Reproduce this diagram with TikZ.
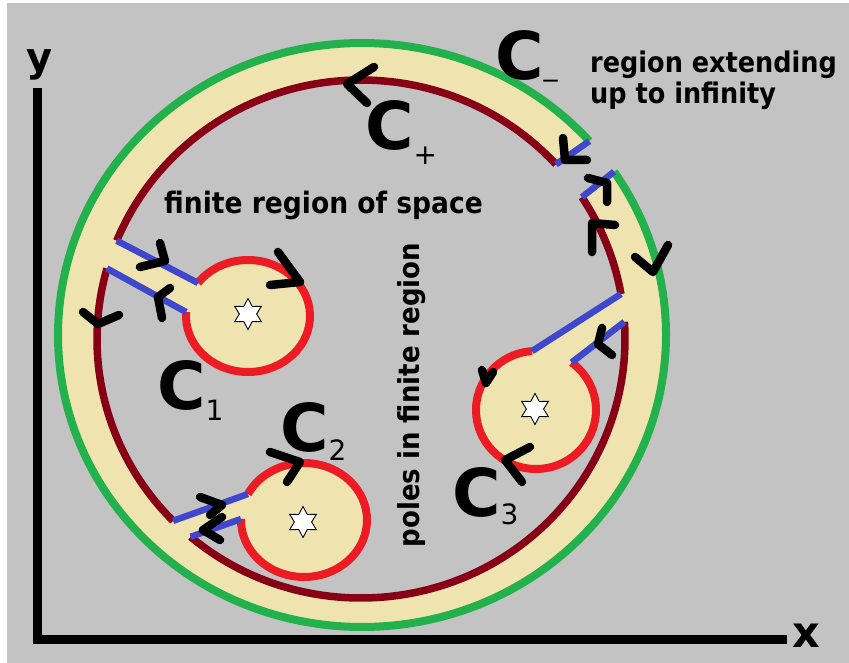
\documentclass[tikz,border=0pt]{standalone}
\usepackage{fontspec}
\setmainfont{DejaVu Sans}
\newfontfamily\narrowsans{DejaVu Sans}[FakeStretch=0.9]
\usetikzlibrary{calc,shapes.geometric}
\definecolor{bgg}{RGB}{195,195,195}
\definecolor{ringfill}{RGB}{239,228,176}
\definecolor{cgreen}{RGB}{34,177,76}
\definecolor{cmaroon}{RGB}{136,0,21}
\definecolor{cred}{RGB}{237,28,36}
\definecolor{cblue}{RGB}{63,72,204}
\newcommand{\labCfont}{\fontsize{66}{66}\selectfont\bfseries}
\newcommand{\labSubfont}{\fontsize{28}{28}\selectfont\mdseries}
\newcommand{\txtfont}{\narrowsans\fontsize{29.5}{30}\selectfont\bfseries}
\begin{document}
\begin{tikzpicture}[x=1pt,y=1pt,
  greenline/.style={draw=cgreen,line width=8pt},
  maroonline/.style={draw=cmaroon,line width=7.5pt},
  redline/.style={draw=cred,line width=8pt},
  blueline/.style={draw=cblue,line width=6.5pt},
  chev/.style={draw=black,line width=8.5pt,line cap=round,line join=round},
  polestar/.style={star,star points=6,star point ratio=1.8,draw=black,line width=0.9pt,fill=white,minimum size=31pt,inner sep=0pt},
  axisline/.style={draw=black,line width=9pt,line join=miter},
  clabel/.style={anchor=base west,inner sep=0pt,text=black},
  plaintext/.style={inner sep=0pt,text=black,font=\txtfont}]
\useasboundingbox (0,0) rectangle (849,-663);
\fill[white] (0,0) rectangle (849,-663);
\fill[bgg] (7,-3) rectangle (849,-663);

% centres
\coordinate (GC) at (362,-335);
\coordinate (MC) at (361,-339);
\coordinate (O1) at (248,-316);
\coordinate (O2) at (304,-520);
\coordinate (O3) at (536,-410);

% cut points
\coordinate (gA) at ($(GC)+(41.6:304pt and 292pt)$);
\coordinate (gB) at ($(GC)+(34:304pt and 292pt)$);
\coordinate (mA) at ($(MC)+(42.4:264pt and 259pt)$);
\coordinate (mB) at ($(MC)+(33.2:264pt and 259pt)$);
\coordinate (m1a) at ($(MC)+(157.7:264pt and 259pt)$);
\coordinate (m1b) at ($(MC)+(164.2:264pt and 259pt)$);
\coordinate (m2a) at ($(MC)+(224.6:264pt and 259pt)$);
\coordinate (m2b) at ($(MC)+(229.8:264pt and 259pt)$);
\coordinate (m3a) at ($(MC)+(10:264pt and 259pt)$);
\coordinate (m3b) at ($(MC)+(3.8:264pt and 259pt)$);
\coordinate (c1a) at ($(O1)+(143.8:62pt and 56pt)$);
\coordinate (c1b) at ($(O1)+(176:62pt and 56pt)$);
\coordinate (c2a) at ($(O2)+(152.9:63pt and 57pt)$);
\coordinate (c2b) at ($(O2)+(179:63pt and 57pt)$);
\coordinate (c3a) at ($(O3)+(93.8:60pt and 59pt)$);
\coordinate (c3b) at ($(O3)+(53.6:60pt and 59pt)$);

% fills
\fill[ringfill] (GC) ellipse [x radius=304pt, y radius=292pt];
\fill[bgg] (MC) ellipse [x radius=264pt, y radius=259pt];
\fill[bgg] ($(gA)!-14pt!(mA)$) -- ($(mA)!-14pt!(gA)$) -- ($(mB)!-14pt!(gB)$) -- ($(gB)!-14pt!(mB)$) -- cycle;
\fill[ringfill] ($(m1a)!-12pt!(c1a)$) -- (c1a) -- (O1) -- (c1b) -- ($(m1b)!-12pt!(c1b)$) -- cycle;
\fill[ringfill] ($(m2a)!-12pt!(c2a)$) -- (c2a) -- (O2) -- (c2b) -- ($(m2b)!-12pt!(c2b)$) -- cycle;
\fill[ringfill] ($(m3a)!-12pt!(c3a)$) -- (c3a) -- (O3) -- (c3b) -- ($(m3b)!-12pt!(c3b)$) -- cycle;
\fill[ringfill] (O1) ellipse [x radius=62pt, y radius=56pt];
\fill[ringfill] (O2) ellipse [x radius=63pt, y radius=57pt];
\fill[ringfill] (O3) ellipse [x radius=60pt, y radius=59pt];

% contours
\draw[greenline] (gA) arc[start angle=41.6, end angle=394, x radius=304pt, y radius=292pt];
\draw[maroonline] (m3a) arc[start angle=10, end angle=33.2, x radius=264pt, y radius=259pt];
\draw[maroonline] (mA) arc[start angle=42.4, end angle=157.7, x radius=264pt, y radius=259pt];
\draw[maroonline] (m1b) arc[start angle=164.2, end angle=224.6, x radius=264pt, y radius=259pt];
\draw[maroonline] (m2b) arc[start angle=229.8, end angle=363.8, x radius=264pt, y radius=259pt];
\draw[redline] (c1b) arc[start angle=176, end angle=503.8, x radius=62pt, y radius=56pt];
\draw[redline] (c2b) arc[start angle=179, end angle=512.9, x radius=63pt, y radius=57pt];
\draw[redline] (c3a) arc[start angle=93.8, end angle=413.6, x radius=60pt, y radius=59pt];

\draw[blueline] (gA) -- (mA);
\draw[blueline] (gB) -- (mB);
\draw[blueline] (m1a) -- (c1a);
\draw[blueline] (m1b) -- (c1b);
\draw[blueline] (m2a) -- (c2a);
\draw[blueline] (m2b) -- (c2b);
\draw[blueline] (m3a) -- (c3a);
\draw[blueline] (m3b) -- (c3b);

% direction chevrons
\draw[chev] (374,-67) -- (347,-84) -- (367,-103);
\draw[chev] (83,-312) -- (98,-324) -- (119,-315);
\draw[chev] (160,-243) -- (165,-261) -- (140,-267);
\draw[chev] (170,-288) -- (158,-297) -- (162,-318);
\draw[chev] (278,-252) -- (300,-282) -- (270,-285);
\draw[chev] (200,-497) -- (222,-505) -- (210,-515);
\draw[chev] (222,-517) -- (203,-530) -- (220,-540);
\draw[chev] (270,-452) -- (300,-462) -- (287,-482);
\draw[chev] (530,-447) -- (505,-460) -- (522,-482);
\draw[chev] (493,-372) -- (486,-383) -- (482,-370);
\draw[chev] (602,-328) -- (598,-344) -- (612,-355);
\draw[chev] (563,-138) -- (565,-160) -- (587,-160);
\draw[chev] (588,-178) -- (607,-183) -- (607,-202);
\draw[chev] (592,-252) -- (592,-223) -- (615,-225);
\draw[chev] (635,-257) -- (653,-272) -- (668,-245);

% poles
\node[polestar] (s1) at (248,-314) {};
\node[polestar] (s2) at (303,-522) {};
\node[polestar] (s3) at (535,-409) {};

% axes
\coordinate (ytop) at (37,-88);
\coordinate (orig) at (37,-639);
\coordinate (xend) at (787,-639);
\draw[axisline] (ytop) -- (orig) -- (xend);
\node[anchor=base,inner sep=0pt,font=\fontsize{40}{40}\selectfont\bfseries] (ylab) at (40,-72) {y};
\node[anchor=base,inner sep=0pt,font=\fontsize{43}{43}\selectfont\bfseries] (xlab) at (806,-647) {x};

% texts
\node[plaintext,anchor=base west] (fin) at (164,-214) {finite region of space};
\node[plaintext,rotate=90,font=\narrowsans\fontsize{28.9}{30}\selectfont\bfseries] (poles) at (412,-395) {poles in finite region};
\node[plaintext,anchor=base west,font=\narrowsans\fontsize{28.4}{30}\selectfont\bfseries] (reg1) at (590,-73) {region extending};
\node[plaintext,anchor=base west,font=\narrowsans\fontsize{28.4}{30}\selectfont\bfseries] (reg2) at (590,-104) {up to infinity};

% contour labels
\node[clabel] (lCm) at (495,-80) {\labCfont C\raisebox{4pt}{\labSubfont\_}};
\node[clabel] (lCp) at (365,-150) {\labCfont C\raisebox{-15pt}{\labSubfont +}};
\node[clabel] (lC1) at (157,-409) {\labCfont C\raisebox{-11pt}{\labSubfont 1}};
\node[clabel] (lC2) at (280,-451) {\labCfont C\raisebox{-9pt}{\labSubfont 2}};
\node[clabel] (lC3) at (452,-516) {\labCfont C\raisebox{-8pt}{\labSubfont 3}};
\end{tikzpicture}
\end{document}
